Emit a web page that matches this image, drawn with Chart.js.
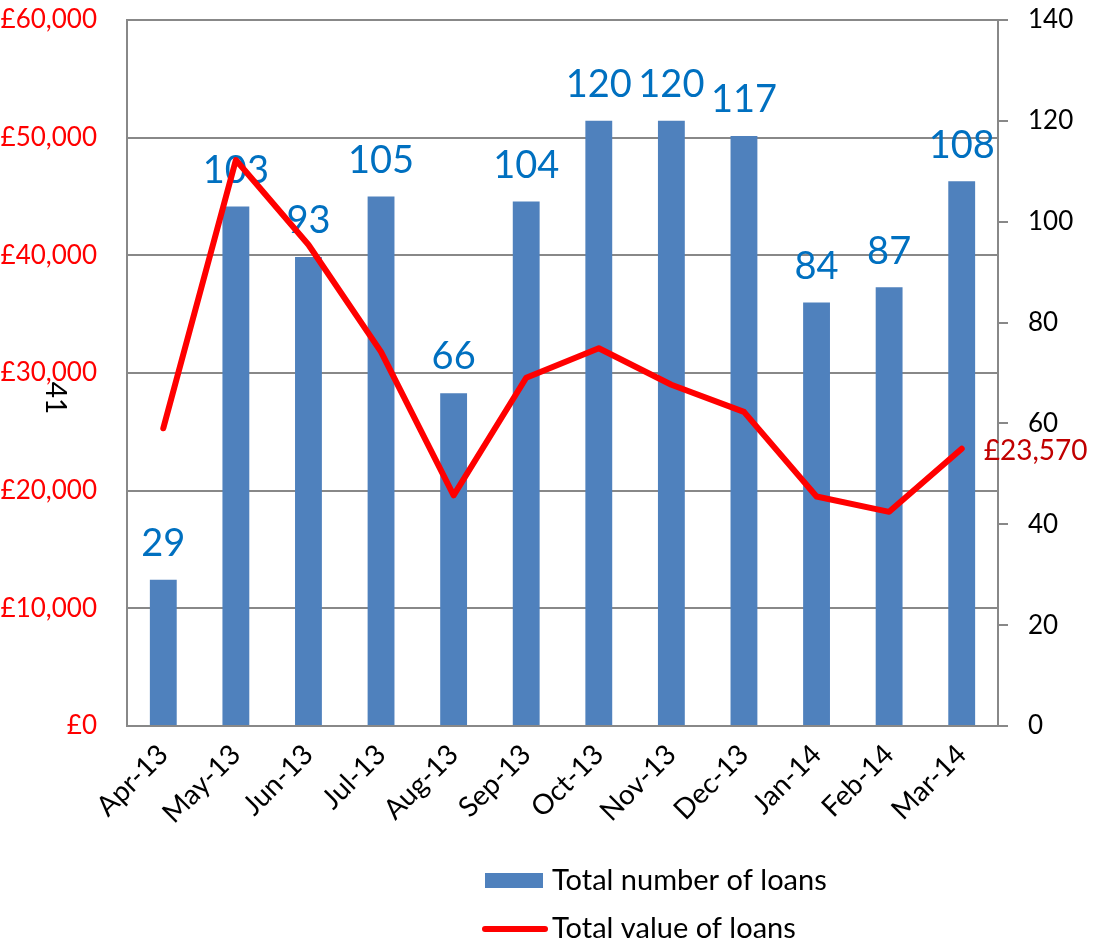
<!DOCTYPE html>
<html>
<head>
<meta charset="utf-8">
<script src="https://cdn.jsdelivr.net/npm/chart.js@4"></script>
<style>
  html, body { margin: 0; padding: 0; background: #fff; }
  #wrap { width: 1093px; height: 941px; }
</style>
</head>
<body>
<div id="wrap"><canvas id="loansChart" width="1093" height="941"></canvas></div>
<script>
const months = ['Apr-13', 'May-13', 'Jun-13', 'Jul-13', 'Aug-13', 'Sep-13',
                'Oct-13', 'Nov-13', 'Dec-13', 'Jan-14', 'Feb-14', 'Mar-14'];
const loanCounts = [29, 103, 93, 105, 66, 104, 120, 120, 117, 84, 87, 108];
const loanValues = [25300, 48100, 40900, 31800, 19600, 29600, 32100, 29000, 26700, 19500, 18200, 23570];
const valueTicks = [0, 10000, 20000, 30000, 40000, 50000, 60000];
const countTicks = [0, 20, 40, 60, 80, 100, 120, 140];

const FONT = 'Lato, "Open Sans", sans-serif';

function formatPounds(v) {
    return '£' + Number(v).toLocaleString('en-GB');
}

function noPadding(scale) {
    scale.paddingTop = 0;
    scale.paddingBottom = 0;
    scale.paddingLeft = 0;
    scale.paddingRight = 0;
}

// blue numbers above the bars, drawn before the line so the line sits on top
const barLabels = {
    id: 'barLabels',
    afterDatasetDraw(chart, args) {
        if (args.index !== 0) return;
        const ctx = chart.ctx;
        ctx.save();
        ctx.font = '38px ' + FONT;
        ctx.fillStyle = '#0070C0';
        ctx.textAlign = 'center';
        ctx.textBaseline = 'bottom';
        args.meta.data.forEach((bar, i) => {
            ctx.fillText(loanCounts[i], bar.x, bar.y - 17);
        });
        ctx.restore();
    }
};

// last value label, stray axis text and the two-row legend
const extras = {
    id: 'extras',
    afterDraw(chart) {
        const ctx = chart.ctx;
        const line = chart.getDatasetMeta(1).data;
        const last = line[line.length - 1];
        ctx.save();
        ctx.font = '28px ' + FONT;
        ctx.fillStyle = '#C00000';
        ctx.textAlign = 'left';
        ctx.textBaseline = 'middle';
        ctx.fillText(formatPounds(loanValues[loanValues.length - 1]), last.x + 22, last.y + 2);

        ctx.save();
        ctx.translate(55, 398);
        ctx.rotate(Math.PI / 2);
        ctx.fillStyle = '#000';
        ctx.textAlign = 'center';
        ctx.fillText('41', 0, 0);
        ctx.restore();

        ctx.font = '29px ' + FONT;
        ctx.fillStyle = chart.data.datasets[0].backgroundColor;
        ctx.fillRect(485, 873, 58, 15);
        ctx.fillStyle = '#000';
        ctx.fillText(chart.data.datasets[0].label, 552, 881);

        ctx.strokeStyle = chart.data.datasets[1].borderColor;
        ctx.lineWidth = 6;
        ctx.lineCap = 'round';
        ctx.beginPath();
        ctx.moveTo(485, 929);
        ctx.lineTo(545, 929);
        ctx.stroke();
        ctx.fillText(chart.data.datasets[1].label, 552, 929);
        ctx.restore();
    }
};

new Chart(document.getElementById('loansChart'), {
    type: 'bar',
    data: {
        labels: months,
        datasets: [{
            type: 'bar',
            label: 'Total number of loans',
            data: loanCounts,
            yAxisID: 'y1',
            backgroundColor: '#4F81BD',
            categoryPercentage: 1,
            barPercentage: 0.37,
            order: 2
        }, {
            type: 'line',
            label: 'Total value of loans',
            data: loanValues,
            yAxisID: 'y',
            borderColor: '#FF0000',
            borderWidth: 6,
            borderCapStyle: 'round',
            borderJoinStyle: 'round',
            pointRadius: 0,
            tension: 0,
            fill: false,
            clip: false,
            order: 1
        }]
    },
    options: {
        responsive: false,
        animation: false,
        layout: { padding: { top: 20, bottom: 0, left: 0, right: 0 } },
        plugins: {
            legend: { display: false },
            tooltip: { enabled: false }
        },
        scales: {
            x: {
                grid: { display: false },
                border: { color: '#888', width: 2 },
                ticks: {
                    color: '#000',
                    font: { family: FONT, size: 28 },
                    minRotation: 45,
                    maxRotation: 45,
                    padding: 4
                },
                afterFit(scale) { scale.height = 215; noPadding(scale); }
            },
            y: {
                position: 'left',
                min: 0,
                max: 60000,
                afterBuildTicks(scale) { scale.ticks = valueTicks.map(v => ({ value: v })); },
                grid: { color: '#888', lineWidth: 2, drawTicks: false },
                border: { color: '#888', width: 2 },
                ticks: {
                    color: '#FF0000',
                    font: { family: FONT, size: 26 },
                    padding: 30,
                    callback: v => formatPounds(v)
                },
                afterFit(scale) { scale.width = 127; noPadding(scale); }
            },
            y1: {
                position: 'right',
                min: 0,
                max: 140,
                afterBuildTicks(scale) { scale.ticks = countTicks.map(v => ({ value: v })); },
                grid: { drawOnChartArea: false, color: '#888', lineWidth: 2, tickLength: 10 },
                border: { color: '#888', width: 2 },
                ticks: {
                    color: '#000',
                    font: { family: FONT, size: 26 },
                    padding: 20
                },
                afterFit(scale) { scale.width = 95; noPadding(scale); }
            }
        }
    },
    plugins: [barLabels, extras]
});
</script>
</body>
</html>
